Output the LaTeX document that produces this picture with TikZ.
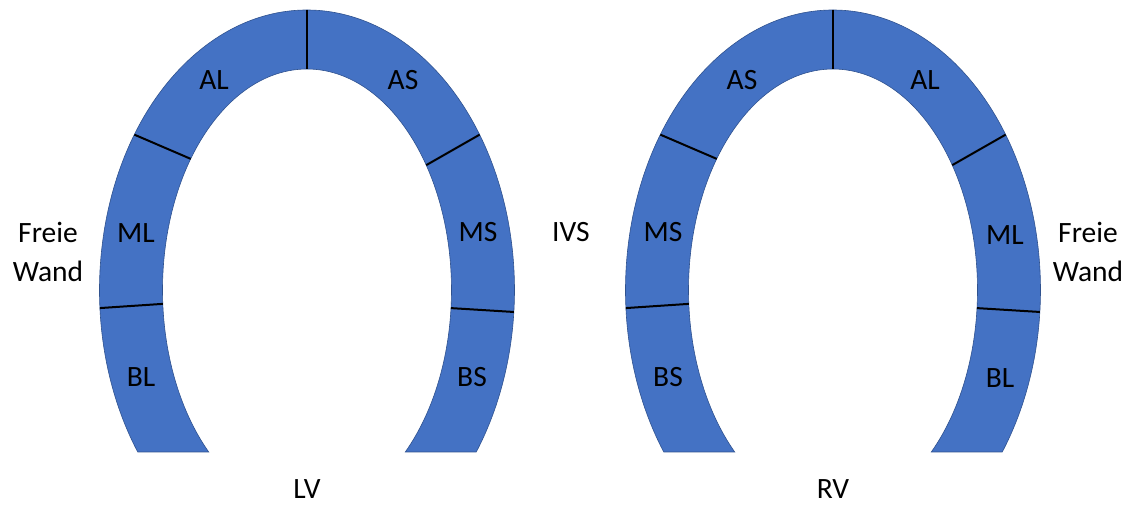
\documentclass[tikz,border=0pt]{standalone}
\usepackage{fontspec}
\setmainfont{Carlito}
\usepackage{xcolor}
\usepackage{tikz}
\usetikzlibrary{calc}

\definecolor{wallblue}{HTML}{4472C4}
\definecolor{wallline}{HTML}{2F528F}

\begin{document}
\begin{tikzpicture}[x=1pt,y=1pt]

\tikzstyle{wall} = [fill=wallblue, draw=wallline, line width=0.6pt]
\tikzstyle{seg} = [line width=2pt, draw=black]
\tikzstyle{lbl} = [font=\fontsize{29.5}{39}\selectfont, inner sep=0pt, align=center]

\useasboundingbox (0,0) rectangle (1129,504);

% LV
\coordinate (lvc) at (307,214);
\draw [wall] ($(lvc)+(215.35:207.5pt and 280pt)$) arc[start angle=215.35, end angle=-35.35, x radius=207.5pt, y radius=280pt]
  -- ($(lvc)+(-47.14:144.5pt and 221pt)$) arc[start angle=-47.14, end angle=227.14, x radius=144.5pt, y radius=221pt] -- cycle;

\coordinate (lvtopo) at ($(lvc)+(90:207.5pt and 280pt)$);
\coordinate (lvtopi) at ($(lvc)+(90:144.5pt and 221pt)$);
\coordinate (lvulo) at ($(lvc)+(146.3:207.5pt and 280pt)$);
\coordinate (lvuli) at ($(lvc)+(143.6:144.5pt and 221pt)$);
\coordinate (lvuro) at ($(lvc)+(33.7:207.5pt and 280pt)$);
\coordinate (lvuri) at ($(lvc)+(34.4:144.5pt and 221pt)$);
\coordinate (lvllo) at ($(lvc)+(183.7:207.5pt and 280pt)$);
\coordinate (lvlli) at ($(lvc)+(183.6:144.5pt and 221pt)$);
\coordinate (lvlro) at ($(lvc)+(-4.5:207.5pt and 280pt)$);
\coordinate (lvlri) at ($(lvc)+(-4.7:144.5pt and 221pt)$);

\draw [seg] (lvtopo) -- (lvtopi);
\draw [seg] (lvulo) -- (lvuli);
\draw [seg] (lvuro) -- (lvuri);
\draw [seg] (lvllo) -- (lvlli);
\draw [seg] (lvlro) -- (lvlri);

\node (lval) [lbl] at (214,424) {AL};
\node (lvas) [lbl] at (403,424) {AS};
\node (lvml) [lbl] at (136,271) {ML};
\node (lvms) [lbl] at (478,272) {MS};
\node (lvbl) [lbl] at (141,127) {BL};
\node (lvbs) [lbl] at (472,127) {BS};
\node (lv) [lbl, anchor=base] at (307,6) {LV};

% RV
\coordinate (rvc) at (833,214);
\draw [wall] ($(rvc)+(215.35:207.5pt and 280pt)$) arc[start angle=215.35, end angle=-35.35, x radius=207.5pt, y radius=280pt]
  -- ($(rvc)+(-47.14:144.5pt and 221pt)$) arc[start angle=-47.14, end angle=227.14, x radius=144.5pt, y radius=221pt] -- cycle;

\coordinate (rvtopo) at ($(rvc)+(90:207.5pt and 280pt)$);
\coordinate (rvtopi) at ($(rvc)+(90:144.5pt and 221pt)$);
\coordinate (rvulo) at ($(rvc)+(146.3:207.5pt and 280pt)$);
\coordinate (rvuli) at ($(rvc)+(143.6:144.5pt and 221pt)$);
\coordinate (rvuro) at ($(rvc)+(33.7:207.5pt and 280pt)$);
\coordinate (rvuri) at ($(rvc)+(34.4:144.5pt and 221pt)$);
\coordinate (rvllo) at ($(rvc)+(183.7:207.5pt and 280pt)$);
\coordinate (rvlli) at ($(rvc)+(183.6:144.5pt and 221pt)$);
\coordinate (rvlro) at ($(rvc)+(-4.5:207.5pt and 280pt)$);
\coordinate (rvlri) at ($(rvc)+(-4.7:144.5pt and 221pt)$);

\draw [seg] (rvtopo) -- (rvtopi);
\draw [seg] (rvulo) -- (rvuli);
\draw [seg] (rvuro) -- (rvuri);
\draw [seg] (rvllo) -- (rvlli);
\draw [seg] (rvlro) -- (rvlri);

\node (rvas) [lbl] at (742,424) {AS};
\node (rval) [lbl] at (925,424) {AL};
\node (rvms) [lbl] at (663,272) {MS};
\node (rvml) [lbl] at (1005,269) {ML};
\node (rvbs) [lbl] at (668,127) {BS};
\node (rvbl) [lbl] at (1000,126) {BL};
\node (rv) [lbl, anchor=base] at (833,6) {RV};

% side labels
\node (lvwand) [lbl] at (48,252) {Freie\\Wand};
\node (ivs) [lbl] at (571,272) {IVS};
\node (rvwand) [lbl] at (1088,252) {Freie\\Wand};

\end{tikzpicture}
\end{document}
